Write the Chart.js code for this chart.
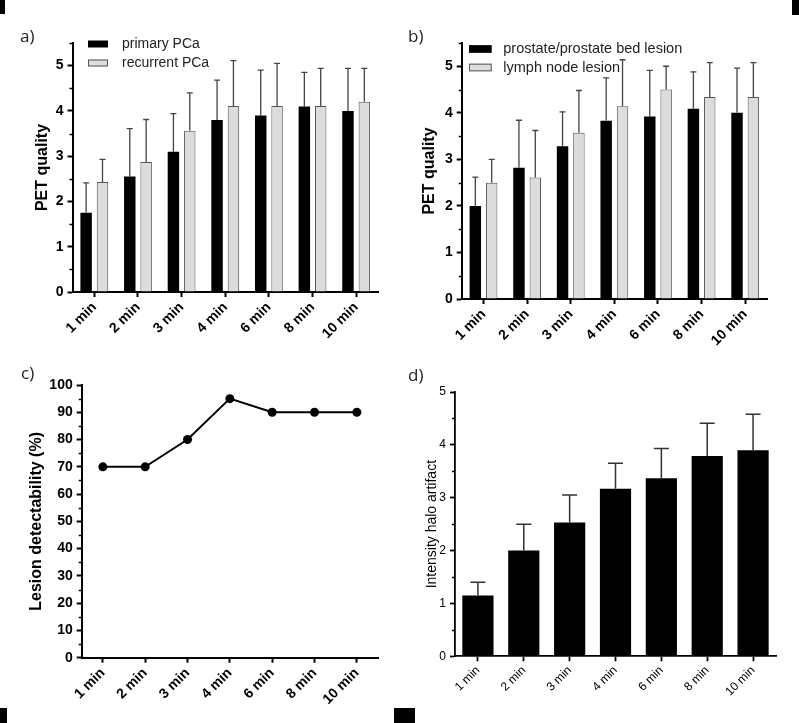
<!DOCTYPE html>
<html>
<head>
<meta charset="utf-8">
<script src="https://cdn.jsdelivr.net/npm/chart.js@4.4.1/dist/chart.umd.min.js"></script>
<style>
  body { margin: 0; background: #fff; }
  #page { position: relative; width: 799px; height: 723px; overflow: hidden; background: #fff; }
  .panel { position: absolute; }
  .tag { position: absolute; font-family: "Open Sans", sans-serif; font-size: 17px; line-height: 17px; color: #222; }
  .mark { position: absolute; background: #000; }
</style>
</head>
<body>
<div id="page">
  <div class="panel" style="left:0;top:0;width:400px;height:360px"><canvas id="chartA"></canvas></div>
  <div class="panel" style="left:400px;top:0;width:399px;height:360px"><canvas id="chartB"></canvas></div>
  <div class="panel" style="left:0;top:360px;width:400px;height:363px"><canvas id="chartC"></canvas></div>
  <div class="panel" style="left:400px;top:360px;width:399px;height:363px"><canvas id="chartD"></canvas></div>

  <div class="tag" style="left:20px;top:27px">a)</div>
  <div class="tag" style="left:408px;top:27px">b)</div>
  <div class="tag" style="left:21px;top:364px">c)</div>
  <div class="tag" style="left:408px;top:366px">d)</div>

  <div class="mark" style="left:0;top:0;width:5px;height:14px"></div>
  <div class="mark" style="left:792px;top:0;width:7px;height:15px"></div>
  <div class="mark" style="left:0;top:708px;width:7px;height:15px"></div>
  <div class="mark" style="left:394px;top:708px;width:21px;height:15px"></div>
</div>

<script>
// scan times (shared by all four panels)
const timeLabels = ['1 min', '2 min', '3 min', '4 min', '6 min', '8 min', '10 min'];

// a) PET quality by tumour setting
const primaryPCa = [1.75, 2.55, 3.1, 3.8, 3.9, 4.1, 4.0];
const primaryPCaSD = [0.66, 1.06, 0.84, 0.88, 1.0, 0.75, 0.94];
const recurrentPCa = [2.43, 2.87, 3.56, 4.11, 4.11, 4.11, 4.2];
const recurrentPCaSD = [0.5, 0.94, 0.84, 1.0, 0.94, 0.83, 0.74];

// b) PET quality by lesion site
const prostateLesion = [2.0, 2.82, 3.28, 3.83, 3.92, 4.09, 4.0];
const prostateLesionSD = [0.62, 1.02, 0.74, 0.92, 0.99, 0.79, 0.96];
const lymphNodeLesion = [2.5, 2.61, 3.57, 4.14, 4.5, 4.34, 4.34];
const lymphNodeLesionSD = [0.5, 1.01, 0.91, 1.0, 0.5, 0.74, 0.74];

// c) lesion detectability (%)
const detectability = [70, 70, 80, 95, 90, 90, 90];

// d) intensity of halo artifact
const haloIntensity = [1.15, 2.0, 2.53, 3.17, 3.37, 3.79, 3.9];
const haloIntensitySD = [0.25, 0.5, 0.52, 0.48, 0.56, 0.62, 0.68];

const FONT = '"Liberation Sans", Arial, sans-serif';
Chart.defaults.font.family = FONT;
Chart.defaults.color = '#000';

// upward-only SD whiskers, drawn from the bar top
const errorBars = {
  id: 'errorBars',
  afterDatasetsDraw(chart, args, opts) {
    if (!opts.sd) return;
    const ctx = chart.ctx;
    const y = chart.scales.y;
    ctx.save();
    ctx.strokeStyle = opts.color;
    ctx.lineWidth = opts.lineWidth;
    chart.data.datasets.forEach((ds, i) => {
      const sd = opts.sd[i];
      if (!sd) return;
      chart.getDatasetMeta(i).data.forEach((bar, j) => {
        const top = y.getPixelForValue(ds.data[j] + sd[j]);
        ctx.beginPath();
        ctx.moveTo(bar.x, bar.y);
        ctx.lineTo(bar.x, top);
        ctx.moveTo(bar.x - opts.cap / 2, top);
        ctx.lineTo(bar.x + opts.cap / 2, top);
        ctx.stroke();
      });
    });
    ctx.restore();
  }
};

// legend inside the plot, top-left, boxes + labels
const boxLegend = {
  id: 'boxLegend',
  afterDraw(chart, args, opts) {
    if (!opts.show) return;
    const ctx = chart.ctx;
    const area = chart.chartArea;
    ctx.save();
    ctx.font = opts.font;
    ctx.textBaseline = 'middle';
    chart.data.datasets.forEach((ds, i) => {
      const cy = area.top + opts.y + i * opts.rowGap;
      const bx = area.left + opts.x;
      ctx.fillStyle = ds.backgroundColor;
      ctx.fillRect(bx, cy - opts.boxH / 2, opts.boxW, opts.boxH);
      if (ds.borderWidth) {
        ctx.strokeStyle = ds.borderColor;
        ctx.lineWidth = 1;
        ctx.strokeRect(bx + 0.5, cy - opts.boxH / 2 + 0.5, opts.boxW - 1, opts.boxH - 1);
      }
      ctx.fillStyle = opts.color;
      ctx.fillText(ds.label, area.left + opts.textX, cy);
    });
    ctx.restore();
  }
};

// small ticks between the labelled ones on the y axis
const minorTicks = {
  id: 'minorTicks',
  afterDraw(chart, args, opts) {
    if (!opts.step) return;
    const ctx = chart.ctx;
    const y = chart.scales.y;
    const x0 = chart.chartArea.left;
    ctx.save();
    ctx.strokeStyle = '#000';
    ctx.lineWidth = opts.width;
    for (let k = 1; k * opts.step <= y.max + 1e-9; k++) {
      const v = k * opts.step;
      const r = v / opts.major;
      if (Math.abs(r - Math.round(r)) < 1e-6) continue;
      const py = Math.round(y.getPixelForValue(v)) + 0.5;
      ctx.beginPath();
      ctx.moveTo(x0 - opts.len, py);
      ctx.lineTo(x0, py);
      ctx.stroke();
    }
    ctx.restore();
  }
};

function xAxis(height, font, tickW) {
  return {
    offset: true,
    border: { color: '#000', width: tickW },
    grid: { offset: false, drawOnChartArea: false, tickLength: 5, tickWidth: tickW, tickColor: '#000' },
    ticks: { autoSkip: false, minRotation: 45, maxRotation: 45, padding: 2, color: '#000', font: font },
    afterFit(s) { s.height = height; }
  };
}

function yAxis(max, step, width, tickFont, title, titleFont, titlePad, lw) {
  return {
    min: 0,
    max: max,
    border: { color: '#000', width: lw },
    grid: { drawOnChartArea: false, tickLength: 5, tickWidth: lw, tickColor: '#000' },
    ticks: { stepSize: step, includeBounds: false, padding: 4, color: '#000', font: tickFont },
    title: { display: true, text: title, color: '#000', font: titleFont, padding: { top: titlePad, bottom: 0 } },
    afterFit(s) { s.width = width; }
  };
}

const boldTick = { family: FONT, size: 14, weight: 'bold' };
const boldTitle = { family: FONT, size: 16, weight: 'bold' };

function barSet(label, data, fill, border) {
  return {
    label: label,
    data: data,
    backgroundColor: fill,
    borderColor: border,
    borderWidth: border ? 1 : 0,
    categoryPercentage: 0.75,
    barPercentage: 0.7
  };
}

const commonOpts = {
  responsive: true,
  maintainAspectRatio: false,
  animation: false,
  events: []
};

new Chart(document.getElementById('chartA'), {
  type: 'bar',
  data: {
    labels: timeLabels,
    datasets: [
      barSet('primary PCa', primaryPCa, '#000000', null),
      barSet('recurrent PCa', recurrentPCa, '#dcdcdc', '#555555')
    ]
  },
  options: Object.assign({}, commonOpts, {
    layout: { padding: { top: 43, right: 22, left: 0, bottom: 0 } },
    scales: {
      x: xAxis(68, boldTick, 2),
      y: yAxis(5.5, 1, 72.5, boldTick, 'PET quality', boldTitle, 33.4, 2)
    },
    plugins: {
      legend: { display: false },
      tooltip: { enabled: false },
      errorBars: { sd: [primaryPCaSD, recurrentPCaSD], color: '#444', lineWidth: 1.3, cap: 6 },
      boxLegend: { show: true, x: 15.5, y: 1, rowGap: 19, boxW: 20, boxH: 7, textX: 49.5, font: '14px ' + FONT, color: '#222' },
      minorTicks: { step: 0.5, major: 1, len: 3, width: 1.5 }
    }
  }),
  plugins: [errorBars, boxLegend, minorTicks]
});

new Chart(document.getElementById('chartB'), {
  type: 'bar',
  data: {
    labels: timeLabels,
    datasets: [
      barSet('prostate/prostate bed lesion', prostateLesion, '#000000', null),
      barSet('lymph node lesion', lymphNodeLesion, '#dcdcdc', '#555555')
    ]
  },
  options: Object.assign({}, commonOpts, {
    layout: { padding: { top: 43, right: 32, left: 0, bottom: 0 } },
    scales: {
      x: xAxis(61, boldTick, 2),
      y: yAxis(5.5, 1, 61.7, boldTick, 'PET quality', boldTitle, 20.4, 2)
    },
    plugins: {
      legend: { display: false },
      tooltip: { enabled: false },
      errorBars: { sd: [prostateLesionSD, lymphNodeLesionSD], color: '#444', lineWidth: 1.3, cap: 6 },
      boxLegend: { show: true, x: 7.3, y: 6, rowGap: 18.5, boxW: 22.7, boxH: 7.7, textX: 41.6, font: '14.5px ' + FONT, color: '#222' },
      minorTicks: { step: 0.5, major: 1, len: 3, width: 1.5 }
    }
  }),
  plugins: [errorBars, boxLegend, minorTicks]
});

new Chart(document.getElementById('chartC'), {
  type: 'line',
  data: {
    labels: timeLabels,
    datasets: [{
      label: 'Lesion detectability',
      data: detectability,
      borderColor: '#000',
      backgroundColor: '#000',
      borderWidth: 2,
      pointRadius: 4.5,
      pointBackgroundColor: '#000',
      pointBorderWidth: 0,
      tension: 0
    }]
  },
  options: Object.assign({}, commonOpts, {
    layout: { padding: { top: 25, right: 22, left: 0, bottom: 0 } },
    scales: {
      x: xAxis(65.3, boldTick, 2),
      y: yAxis(100, 10, 81.7, boldTick, 'Lesion detectability (%)', boldTitle, 27.1, 2)
    },
    plugins: {
      legend: { display: false },
      tooltip: { enabled: false },
      minorTicks: { step: 5, major: 10, len: 3, width: 1.5 }
    }
  }),
  plugins: [minorTicks]
});

new Chart(document.getElementById('chartD'), {
  type: 'bar',
  data: {
    labels: timeLabels,
    datasets: [{
      label: 'Intensity halo artifact',
      data: haloIntensity,
      backgroundColor: '#000',
      borderWidth: 0,
      categoryPercentage: 1,
      barPercentage: 0.68
    }]
  },
  options: Object.assign({}, commonOpts, {
    layout: { padding: { top: 32, right: 23, left: 0, bottom: 0 } },
    scales: {
      x: xAxis(66.7, { family: FONT, size: 12 }, 1.8),
      y: yAxis(5, 1, 55, { family: FONT, size: 12 }, 'Intensity halo artifact', { family: FONT, size: 14 }, 23.3, 1.8)
    },
    plugins: {
      legend: { display: false },
      tooltip: { enabled: false },
      errorBars: { sd: [haloIntensitySD], color: '#333', lineWidth: 1.5, cap: 15 },
      minorTicks: { step: 0.5, major: 1, len: 3, width: 1.5 }
    }
  }),
  plugins: [errorBars, minorTicks]
});
</script>
</body>
</html>
